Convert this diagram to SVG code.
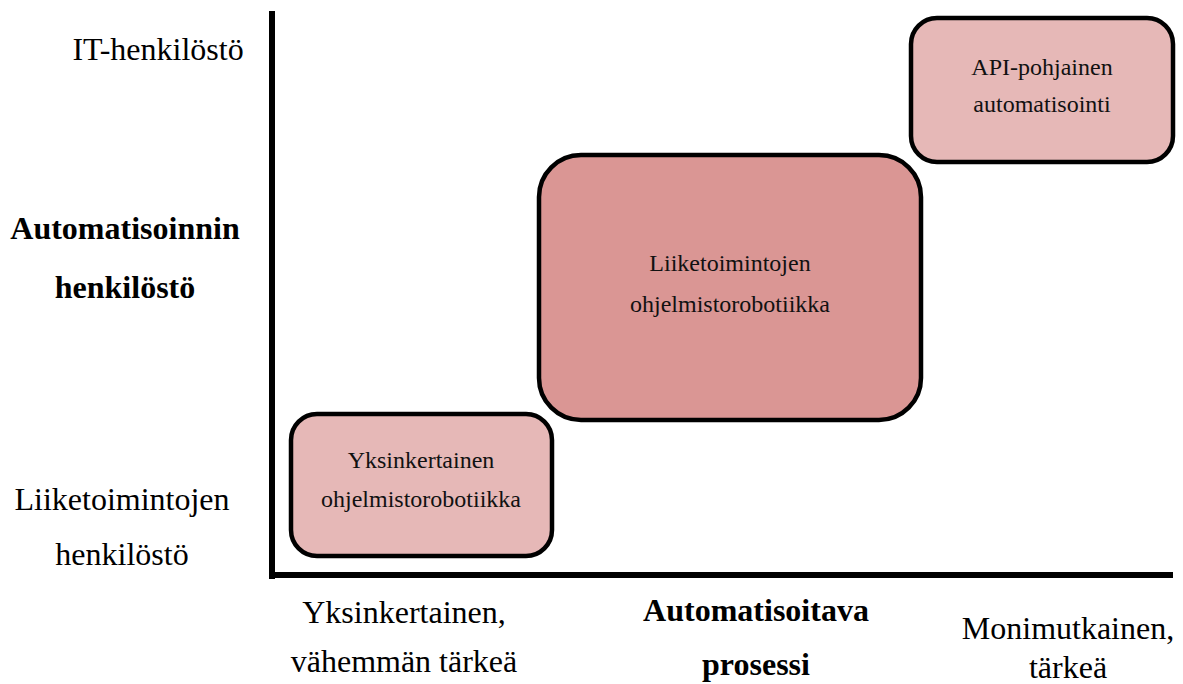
<svg xmlns="http://www.w3.org/2000/svg" width="1183" height="684" viewBox="0 0 1183 684">
<style>
.box{stroke:#000;stroke-width:4.5}
.light{fill:#e6b8b7}
.dark{fill:#da9694}
.bt{font-family:"Liberation Serif","Times New Roman",serif;font-size:24px;fill:#111;text-anchor:middle}
.lbl{font-family:"Liberation Serif","Times New Roman",serif;font-size:32px;fill:#000;text-anchor:middle}
.b{font-weight:bold}
</style>
<rect width="1183" height="684" fill="#fff"/>
<g id="axes">
<line x1="272" y1="11" x2="272" y2="579" stroke="#000" stroke-width="6"/>
<line x1="269" y1="575" x2="1173" y2="575" stroke="#000" stroke-width="6"/>
</g>
<g id="node-api">
<rect class="box light" x="911" y="18" width="262" height="144" rx="26"/>
<text class="bt" x="1042" y="75">API-pohjainen</text>
<text class="bt" x="1042" y="112">automatisointi</text>
</g>
<g id="node-liike">
<rect class="box dark" x="539" y="155" width="382" height="265" rx="42"/>
<text class="bt" x="730" y="271">Liiketoimintojen</text>
<text class="bt" x="730" y="312">ohjelmistorobotiikka</text>
</g>
<g id="node-yksin">
<rect class="box light" x="291" y="414" width="261" height="142" rx="26"/>
<text class="bt" x="421" y="468">Yksinkertainen</text>
<text class="bt" x="421" y="507">ohjelmistorobotiikka</text>
</g>
<g id="labels-y">
<text class="lbl" x="158" y="60">IT-henkilöstö</text>
<text class="lbl b" x="125" y="239">Automatisoinnin</text>
<text class="lbl b" x="125" y="298">henkilöstö</text>
<text class="lbl" x="122" y="510">Liiketoimintojen</text>
<text class="lbl" x="122" y="565">henkilöstö</text>
</g>
<g id="labels-x">
<text class="lbl" x="404" y="623">Yksinkertainen,</text>
<text class="lbl" x="404" y="672">vähemmän tärkeä</text>
<text class="lbl b" x="756" y="621">Automatisoitava</text>
<text class="lbl b" x="756" y="675">prosessi</text>
<text class="lbl" x="1068" y="639">Monimutkainen,</text>
<text class="lbl" x="1068" y="678">tärkeä</text>
</g>
<g id="connectors"></g>
</svg>
